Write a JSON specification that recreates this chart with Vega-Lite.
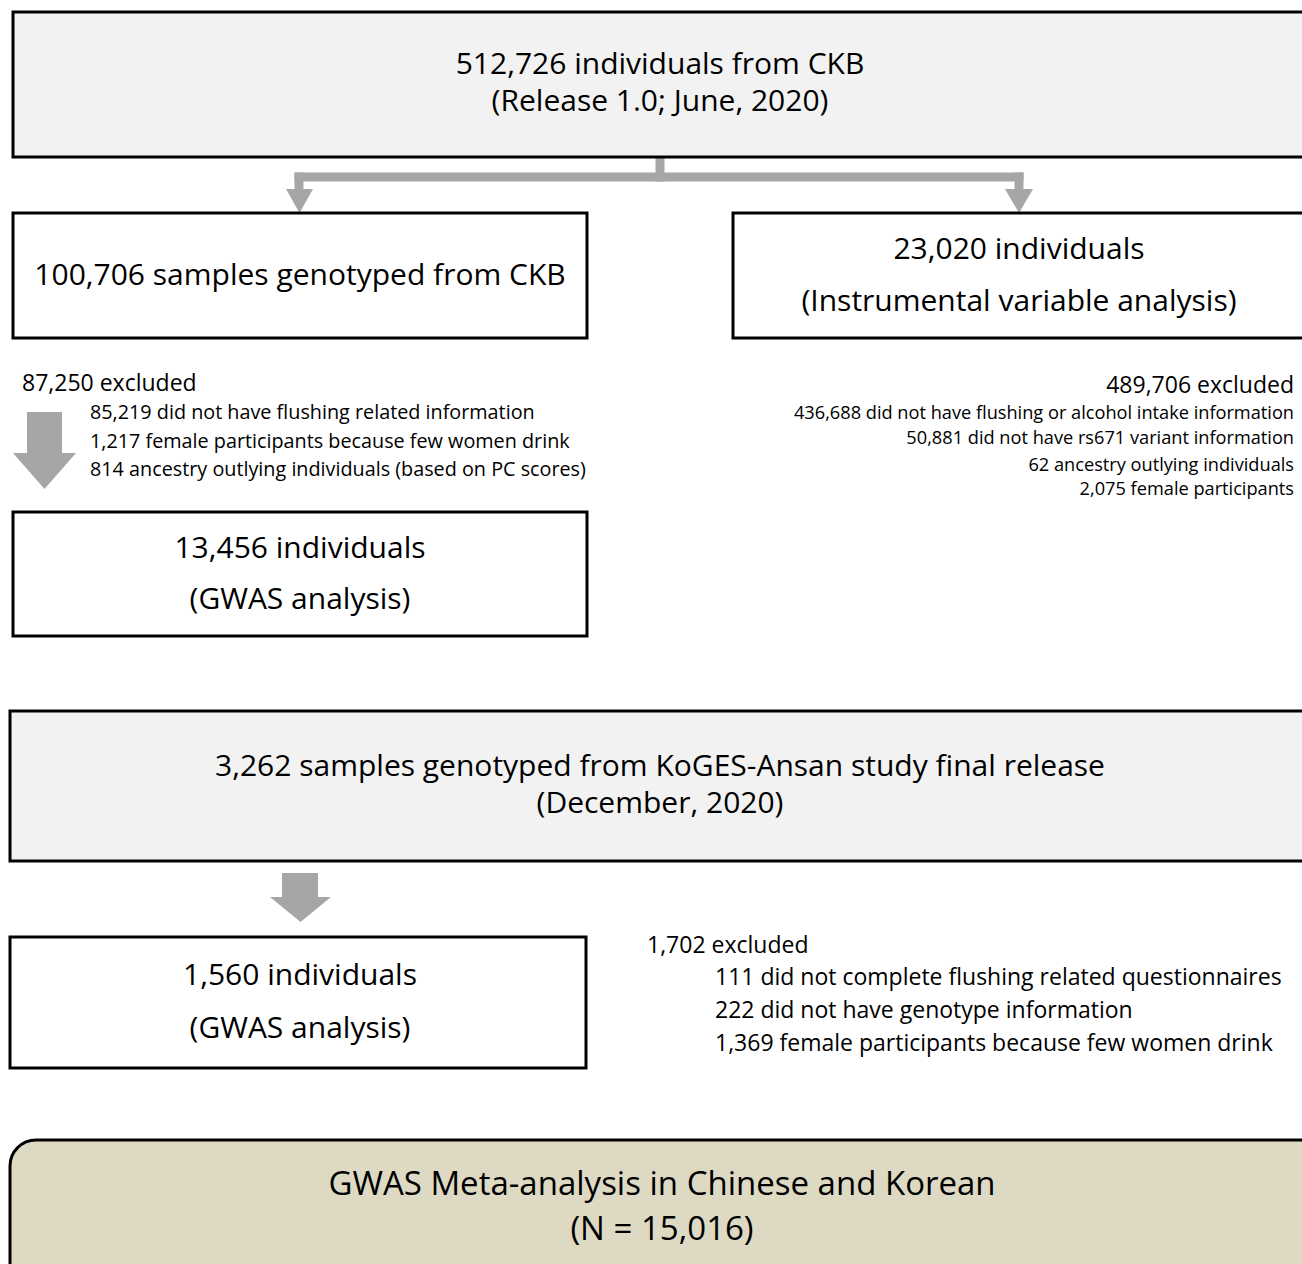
{
 "$schema": "https://vega.github.io/schema/vega-lite/v6.json",
 "width": 1302,
 "height": 1264,
 "autosize": {"type": "fit", "contains": "padding"},
 "padding": 0,
 "background": "white",
 "config": {
  "view": {"stroke": null},
  "text": {"font": "Open Sans", "color": "#000000", "baseline": "middle"}
 },
 "datasets": {
  "boxes": [
   {"id": "ckb_all", "tone": "grey", "x": 13, "x2": 1312, "y": 12, "y2": 157},
   {"id": "ckb_geno", "tone": "white", "x": 13, "x2": 587, "y": 213, "y2": 338},
   {"id": "iv", "tone": "white", "x": 733, "x2": 1312, "y": 213, "y2": 338},
   {"id": "ckb_gwas", "tone": "white", "x": 13, "x2": 587, "y": 512, "y2": 636},
   {"id": "koges", "tone": "grey", "x": 10, "x2": 1312, "y": 711, "y2": 861},
   {"id": "koges_gwas", "tone": "white", "x": 10, "x2": 586, "y": 937, "y2": 1068}
  ],
  "meta": [
   {"id": "meta", "tone": "beige", "x": 10, "x2": 1340, "y": 1140, "y2": 1310}
  ],
  "links": [
   {"x": 660, "x2": 660, "y": 157, "y2": 177},
   {"x": 299, "x2": 1019, "y": 177, "y2": 177},
   {"x": 299, "x2": 299, "y": 177, "y2": 192},
   {"x": 1019, "x2": 1019, "y": 177, "y2": 192}
  ],
  "heads": [
   {"arrow": "to_ckb", "x": 286, "x2": 313, "y": 189},
   {"arrow": "to_ckb", "x": 299.5, "x2": 299.5, "y": 213},
   {"arrow": "to_iv", "x": 1005, "x2": 1033, "y": 189},
   {"arrow": "to_iv", "x": 1019, "x2": 1019, "y": 213},
   {"arrow": "ckb_excl", "x": 13, "x2": 76, "y": 453},
   {"arrow": "ckb_excl", "x": 44.5, "x2": 44.5, "y": 489},
   {"arrow": "koges_excl", "x": 270, "x2": 331, "y": 897},
   {"arrow": "koges_excl", "x": 300.5, "x2": 300.5, "y": 922}
  ],
  "shafts": [
   {"arrow": "ckb_excl", "x": 27, "x2": 62, "y": 412, "y2": 454},
   {"arrow": "koges_excl", "x": 282, "x2": 318, "y": 873, "y2": 898}
  ],
  "labels": [
   {"style": "box", "x": 660, "y": 65, "label": "512,726 individuals from CKB"},
   {"style": "box", "x": 660, "y": 102, "label": "(Release 1.0; June, 2020)"},
   {"style": "box", "x": 300, "y": 276, "label": "100,706 samples genotyped from CKB"},
   {"style": "box", "x": 1019, "y": 250, "label": "23,020 individuals"},
   {"style": "box", "x": 1019, "y": 302, "label": "(Instrumental variable analysis)"},
   {"style": "box", "x": 300, "y": 549, "label": "13,456 individuals"},
   {"style": "box", "x": 300, "y": 600, "label": "(GWAS analysis)"},
   {"style": "box", "x": 660, "y": 767, "label": "3,262 samples genotyped from KoGES-Ansan study final release"},
   {"style": "box", "x": 660, "y": 804, "label": "(December, 2020)"},
   {"style": "box", "x": 300, "y": 976, "label": "1,560 individuals"},
   {"style": "box", "x": 300, "y": 1029, "label": "(GWAS analysis)"},
   {"style": "meta", "x": 662, "y": 1185, "label": "GWAS Meta-analysis in Chinese and Korean"},
   {"style": "meta", "x": 662, "y": 1230, "label": "(N = 15,016)"},
   {"style": "head_l", "x": 22, "y": 384, "label": "87,250 excluded"},
   {"style": "head_l", "x": 647, "y": 946, "label": "1,702 excluded"},
   {"style": "head_r", "x": 1294, "y": 386, "label": "489,706 excluded"},
   {"style": "item_l", "x": 90, "y": 413, "label": "85,219 did not have flushing related information"},
   {"style": "item_l", "x": 90, "y": 442, "label": "1,217 female participants because few women drink"},
   {"style": "item_l", "x": 90, "y": 470, "label": "814 ancestry outlying individuals (based on PC scores)"},
   {"style": "item_r", "x": 1294, "y": 414, "label": "436,688 did not have flushing or alcohol intake information"},
   {"style": "item_r", "x": 1294, "y": 439, "label": "50,881 did not have rs671 variant information"},
   {"style": "item_r", "x": 1294, "y": 466, "label": "62 ancestry outlying individuals"},
   {"style": "item_r", "x": 1294, "y": 490, "label": "2,075 female participants"},
   {"style": "item_k", "x": 715, "y": 978, "label": "111 did not complete flushing related questionnaires"},
   {"style": "item_k", "x": 715, "y": 1011, "label": "222 did not have genotype information"},
   {"style": "item_k", "x": 715, "y": 1044, "label": "1,369 female participants because few women drink"}
  ]
 },
 "encoding": {
  "x": {"field": "x", "type": "quantitative", "axis": null, "scale": {"domain": [0, 1302], "nice": false, "zero": false}},
  "y": {"field": "y", "type": "quantitative", "axis": null, "scale": {"domain": [0, 1264], "nice": false, "zero": false, "reverse": true}}
 },
 "layer": [
  {
   "data": {"name": "links"},
   "mark": {"type": "rule", "color": "#a6a6a6", "strokeWidth": 9, "strokeCap": "square"},
   "encoding": {"x2": {"field": "x2"}, "y2": {"field": "y2"}}
  },
  {
   "data": {"name": "heads"},
   "mark": {"type": "area", "orient": "horizontal", "color": "#a6a6a6", "opacity": 1},
   "encoding": {"x2": {"field": "x2"}, "detail": {"field": "arrow", "type": "nominal"}}
  },
  {
   "data": {"name": "shafts"},
   "mark": {"type": "rect", "color": "#a6a6a6"},
   "encoding": {"x2": {"field": "x2"}, "y2": {"field": "y2"}}
  },
  {
   "data": {"name": "boxes"},
   "mark": {"type": "rect", "stroke": "#000000", "strokeWidth": 3, "clip": true},
   "encoding": {
    "x2": {"field": "x2"},
    "y2": {"field": "y2"},
    "fill": {"field": "tone", "type": "nominal", "legend": null, "scale": {"domain": ["grey", "white", "beige"], "range": ["#f2f2f2", "#ffffff", "#ddd9c3"]}}
   }
  },
  {
   "data": {"name": "meta"},
   "mark": {"type": "rect", "stroke": "#000000", "strokeWidth": 3, "cornerRadius": 26, "clip": true},
   "encoding": {
    "x2": {"field": "x2"},
    "y2": {"field": "y2"},
    "fill": {"field": "tone", "type": "nominal", "legend": null}
   }
  },
  {
   "data": {"name": "labels"},
   "transform": [{"filter": "datum.style === 'box'"}],
   "mark": {"type": "text", "align": "center", "fontSize": 30},
   "encoding": {"text": {"field": "label"}}
  },
  {
   "data": {"name": "labels"},
   "transform": [{"filter": "datum.style === 'meta'"}],
   "mark": {"type": "text", "align": "center", "fontSize": 33},
   "encoding": {"text": {"field": "label"}}
  },
  {
   "data": {"name": "labels"},
   "transform": [{"filter": "datum.style === 'head_l'"}],
   "mark": {"type": "text", "align": "left", "fontSize": 23},
   "encoding": {"text": {"field": "label"}}
  },
  {
   "data": {"name": "labels"},
   "transform": [{"filter": "datum.style === 'head_r'"}],
   "mark": {"type": "text", "align": "right", "fontSize": 23},
   "encoding": {"text": {"field": "label"}}
  },
  {
   "data": {"name": "labels"},
   "transform": [{"filter": "datum.style === 'item_l'"}],
   "mark": {"type": "text", "align": "left", "fontSize": 19.8},
   "encoding": {"text": {"field": "label"}}
  },
  {
   "data": {"name": "labels"},
   "transform": [{"filter": "datum.style === 'item_r'"}],
   "mark": {"type": "text", "align": "right", "fontSize": 18.2},
   "encoding": {"text": {"field": "label"}}
  },
  {
   "data": {"name": "labels"},
   "transform": [{"filter": "datum.style === 'item_k'"}],
   "mark": {"type": "text", "align": "left", "fontSize": 23},
   "encoding": {"text": {"field": "label"}}
  }
 ]
}
